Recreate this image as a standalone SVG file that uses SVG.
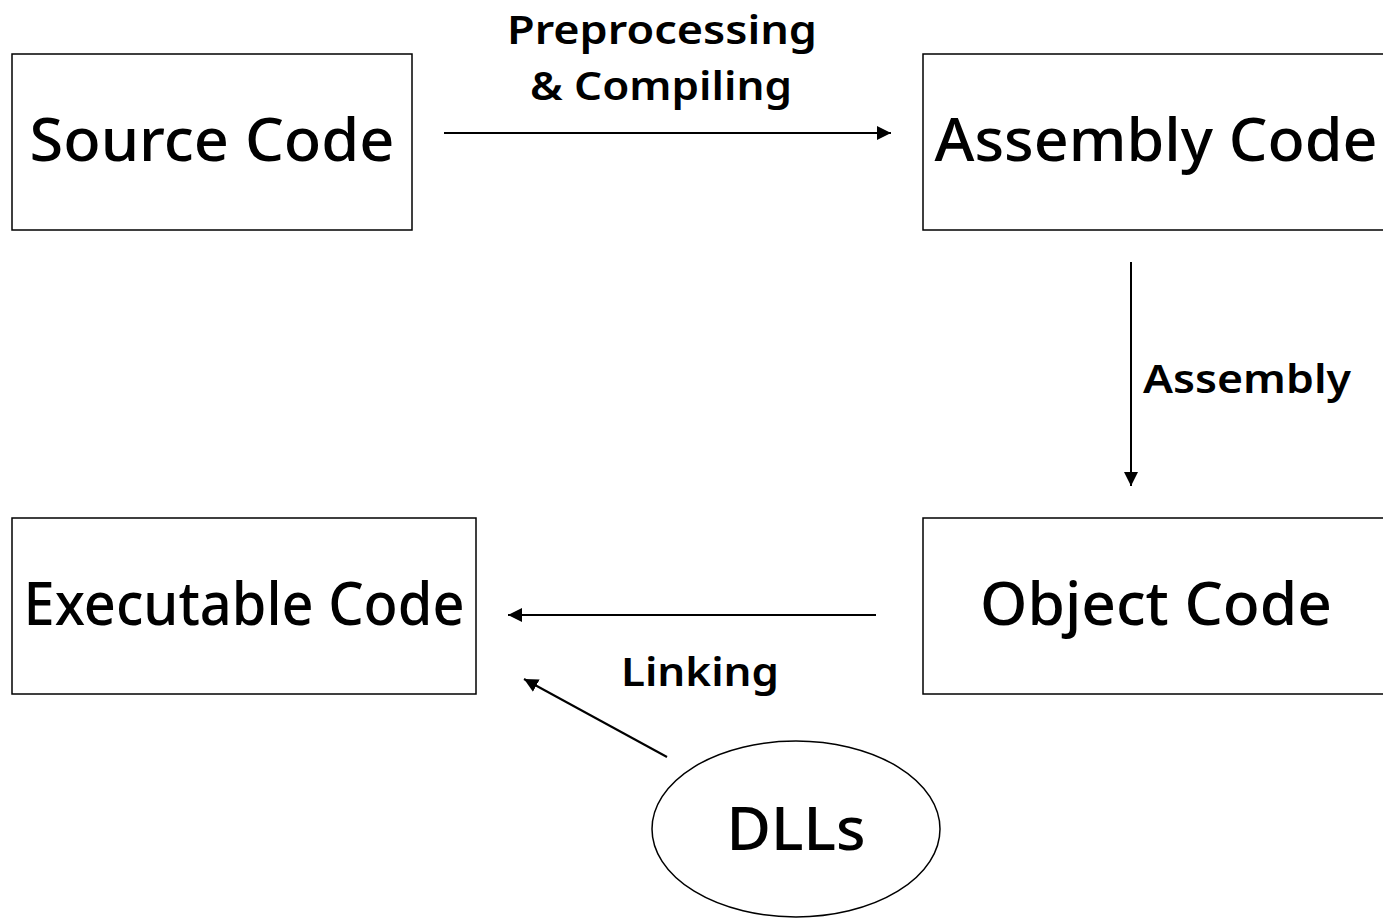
<svg xmlns="http://www.w3.org/2000/svg" width="1383" height="923" viewBox="0 0 1383 923">
  <defs>
    <marker id="arrow" viewBox="0 0 14 14" refX="14" refY="7" markerWidth="14" markerHeight="14" markerUnits="userSpaceOnUse" orient="auto">
      <path d="M0,0 L14,7 L0,14 Z" fill="#000"/>
    </marker>
    <style>
      .box { fill: #fff; stroke: #000; stroke-width: 1.5; }
      .node-text { font-family: "Noto Sans", "Open Sans", sans-serif; font-size: 60px; font-weight: 500; fill: #000; text-anchor: middle; }
      .edge-text { font-family: "Noto Sans", "Open Sans", sans-serif; font-size: 39px; font-weight: 600; fill: #000; text-anchor: middle; }
      .edge { stroke: #000; stroke-width: 2; fill: none; marker-end: url(#arrow); }
    </style>
  </defs>
  <rect width="1383" height="923" fill="#fff"/>

  <g id="source-code">
    <rect class="box" x="12" y="54" width="400" height="176"/>
    <text class="node-text" x="212" y="161" textLength="365" lengthAdjust="spacingAndGlyphs">Source Code</text>
  </g>
  <g id="assembly-code">
    <rect class="box" x="923" y="54" width="470" height="176"/>
    <text class="node-text" x="1156" y="161" textLength="443" lengthAdjust="spacingAndGlyphs">Assembly Code</text>
  </g>
  <g id="object-code">
    <rect class="box" x="923" y="518" width="470" height="176"/>
    <text class="node-text" x="1156" y="625" textLength="352" lengthAdjust="spacingAndGlyphs">Object Code</text>
  </g>
  <g id="executable-code">
    <rect class="box" x="12" y="518" width="464" height="176"/>
    <text class="node-text" x="244" y="625" textLength="441" lengthAdjust="spacingAndGlyphs">Executable Code</text>
  </g>
  <g id="dlls">
    <ellipse class="box" cx="796" cy="829" rx="144" ry="88"/>
    <text class="node-text" x="796" y="850" textLength="139" lengthAdjust="spacingAndGlyphs">DLLs</text>
  </g>

  <g id="connectors">
    <line class="edge" x1="444" y1="133" x2="891" y2="133"/>
    <line class="edge" x1="1131" y1="262" x2="1131" y2="486"/>
    <line class="edge" x1="876" y1="615" x2="508" y2="615"/>
    <line class="edge" x1="667" y1="757" x2="524" y2="679"/>
    <text class="edge-text" x="662" y="44" textLength="310" lengthAdjust="spacingAndGlyphs">Preprocessing</text>
    <text class="edge-text" x="661" y="100" textLength="262" lengthAdjust="spacingAndGlyphs">&amp; Compiling</text>
    <text class="edge-text" x="1247" y="393" textLength="208" lengthAdjust="spacingAndGlyphs">Assembly</text>
    <text class="edge-text" x="700" y="686" textLength="158" lengthAdjust="spacingAndGlyphs">Linking</text>
  </g>
</svg>
